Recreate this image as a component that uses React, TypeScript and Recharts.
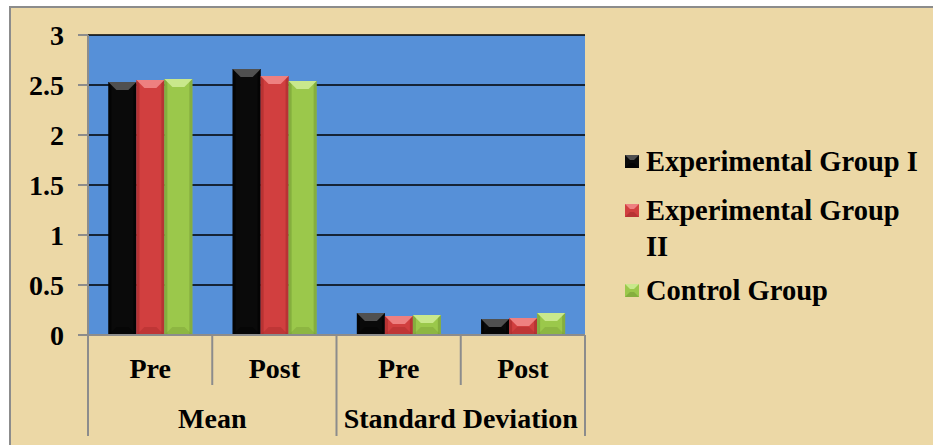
import React from 'react'
import { BarChart, Bar, XAxis, YAxis, CartesianGrid, Legend } from 'recharts'

const stats = ['Mean', 'Mean', 'Standard Deviation', 'Standard Deviation']
const phases = ['Pre', 'Post', 'Pre', 'Post']
const expGroup1 = [2.53, 2.66, 0.22, 0.16]
const expGroup2 = [2.55, 2.59, 0.19, 0.17]
const controlGroup = [2.56, 2.54, 0.2, 0.22]
const yTicks = [0, 0.5, 1, 1.5, 2, 2.5, 3]

const data = phases.map((phase, i) => ({
    stat: stats[i],
    phase,
    e1: expGroup1[i],
    e2: expGroup2[i],
    c: controlGroup[i],
}))

const FONT = "'Liberation Serif', 'Times New Roman', serif"
const GREY = '#8c8c8c'

const tones: Record<string, { base: string; light: string; dark: string }> = {
    e1: { base: '#0a0a0a', light: '#505050', dark: '#000000' },
    e2: { base: '#d13f3f', light: '#ee8080', dark: '#a52b2b' },
    c: { base: '#9bc84b', light: '#c9e88c', dark: '#779c35' },
}

const series = [
    { key: 'e1', name: 'Experimental Group I' },
    { key: 'e2', name: 'Experimental Group II' },
    { key: 'c', name: 'Control Group' },
]

const BevelBar = (props: any) => {
    const { x, y, width, height, dataKey } = props
    if (!height || height <= 0) return null
    const t = tones[dataKey]
    const d = Math.min(8, height / 2, width / 2)
    return (
        <g>
            <rect x={x} y={y} width={width} height={height} fill={t.base} />
            <rect x={x} y={y} width={3} height={height} fill={t.dark} opacity={0.6} />
            <rect x={x + width - 3} y={y} width={3} height={height} fill={t.dark} opacity={0.6} />
            <polygon
                points={`${x},${y} ${x + width},${y} ${x + width - d},${y + d} ${x + d},${y + d}`}
                fill={t.light}
            />
            <polygon
                points={`${x},${y + height} ${x + width},${y + height} ${x + width - d},${y + height - d} ${x + d},${y + height - d}`}
                fill={t.dark}
                opacity={0.4}
            />
        </g>
    )
}

const Marker = ({ k }: { k: string }) => {
    const t = tones[k]
    return (
        <svg width={14} height={13} style={{ marginTop: 11, marginRight: 7, flex: 'none' }}>
            <rect x={0} y={0} width={14} height={13} fill={t.base} />
            <polygon points="0,0 14,0 9,5 5,5" fill={t.light} />
            <polygon points="0,13 14,13 9,8 5,8" fill={t.dark} opacity={0.6} />
        </svg>
    )
}

const LegendBox = () => (
    <div style={{ fontFamily: FONT, fontWeight: 'bold', fontSize: 28.5, lineHeight: '36px', color: '#000' }}>
        {series.map((s, i) => (
            <div key={s.key} style={{ display: 'flex', alignItems: 'flex-start', marginBottom: i === 0 ? 13 : 8 }}>
                <Marker k={s.key} />
                <span style={{ width: 276 }}>{s.name}</span>
            </div>
        ))}
    </div>
)

const PhaseTick = (props: any) => {
    const { x, y, payload, index } = props
    const half = payload.offset ?? 62
    const first = index === 0 || stats[index] !== stats[index - 1]
    const last = index === data.length - 1
    const style = { fontFamily: FONT, fontWeight: 'bold' as const, fontSize: 28, fill: '#000' }
    return (
        <g>
            <line x1={x - half} y1={y} x2={x - half} y2={y + (first ? 101 : 50)} stroke={GREY} strokeWidth={2} />
            {last && <line x1={x + half} y1={y} x2={x + half} y2={y + 101} stroke={GREY} strokeWidth={2} />}
            <text x={x} y={y + 43} textAnchor="middle" {...style}>{payload.value}</text>
            {first && (
                <text x={x + half} y={y + 93} textAnchor="middle" {...style}>{stats[index]}</text>
            )}
        </g>
    )
}

export default function App() {
    return (
        <div style={{ position: 'relative', width: 933, height: 445, background: '#fff', overflow: 'hidden' }}>
            <style>{`body{margin:0}`}</style>
            <div
                style={{
                    position: 'absolute', left: 9, top: 6, width: 924, height: 439,
                    background: '#ecd8a6', borderTop: `2px solid ${GREY}`, borderLeft: `2px solid ${GREY}`,
                }}
            />
            <div style={{ position: 'absolute', left: 0, top: 0 }}>
                <BarChart
                    width={933}
                    height={445}
                    data={data}
                    margin={{ top: 35, right: 348, bottom: 0, left: 0 }}
                    barCategoryGap="16.4%"
                    barGap={0}
                >
                    <CartesianGrid vertical={false} fill="#5690d8" stroke="#000" strokeWidth={1.5} />
                    <XAxis
                        dataKey="phase"
                        height={110}
                        tickSize={0}
                        tickMargin={0}
                        tickLine={false}
                        axisLine={{ stroke: GREY, strokeWidth: 2 }}
                        interval={0}
                        tick={<PhaseTick />}
                    />
                    <YAxis
                        width={88}
                        domain={[0, 3]}
                        ticks={yTicks}
                        interval={0}
                        tickSize={10}
                        tickMargin={14}
                        axisLine={{ stroke: GREY, strokeWidth: 2 }}
                        tickLine={{ stroke: GREY, strokeWidth: 2 }}
                        tick={{ fill: '#000', fontSize: 28, fontWeight: 'bold', fontFamily: FONT }}
                    />
                    <Legend
                        layout="vertical"
                        align="center"
                        verticalAlign="middle"
                        wrapperStyle={{ left: 625, top: 144, width: 305 }}
                        content={<LegendBox />}
                    />
                    {series.map((s) => (
                        <Bar
                            key={s.key}
                            dataKey={s.key}
                            name={s.name}
                            fill={tones[s.key].base}
                            shape={<BevelBar />}
                            isAnimationActive={false}
                        />
                    ))}
                </BarChart>
            </div>
        </div>
    )
}
